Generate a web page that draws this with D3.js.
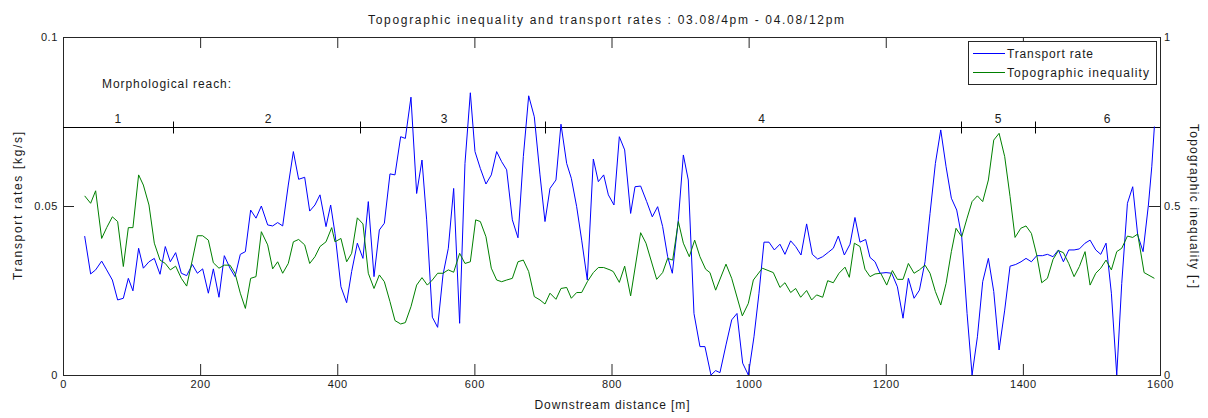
<!DOCTYPE html>
<html>
<head>
<meta charset="utf-8">
<script src="https://cdn.jsdelivr.net/npm/d3@7"></script>
<style>
  html, body { margin: 0; padding: 0; background: #fff; }
  svg { display: block; }
  text { font-family: "Liberation Sans", Arial, Helvetica, sans-serif; fill: #1a1a1a; }
</style>
</head>
<body>
<svg id="chart" width="1208" height="418"></svg>
<script>
// ---------------- DATA ----------------
const title = "Topographic inequality and transport rates : 03.08/4pm - 04.08/12pm";
const xLabel = "Downstream distance [m]";
const yLeftLabel = "Transport rates [kg/s]";
const yRightLabel = "Topographic inequality [-]";
const seriesNames = ["Transport rate", "Topographic inequality"];

const xTicks = [0, 200, 400, 600, 800, 1000, 1200, 1400, 1600];
const xTickLabels = ["0", "200", "400", "600", "800", "1000", "1200", "1400", "1600"];
const yLeftTicks = [0, 0.05, 0.1];
const yLeftTickLabels = ["0", "0.05", "0.1"];
const yRightTicks = [0, 0.5, 1];
const yRightTickLabels = ["0", "0.5", "1"];

// morphological reaches
const reachTitle = "Morphological reach:";
const reachLevel = 0.0734;              // drawn on transport-rate scale
const reachBounds = [161, 433, 703, 1310, 1417];
const reachNames = ["1", "2", "3", "4", "5", "6"];
const reachLabelPos = [80, 299, 556, 1019, 1364, 1523];

// transport rate [kg/s]
const rateDist = [
  31.6,40.3,47.6,56.4,63.7,72,79.7,88,95.3,102,110.3,117.2,125.4,133.2,141.5,149.2,156.5,164.3,172.6,180.4,
  188.6,196,203.7,212,219.3,227.5,235.3,243.6,250.9,258.6,266,273.7,281.5,289.3,298.5,305.8,313.1,320.4,328.6,336,
  343.7,352.5,359.8,367.5,374.8,383.6,390.4,
  396.7,405.4,413.7,421,429.3,437.5,445.3,453.6,461.4,468.7,476.9,484.2,492.5,499.3,507.5,515.8,523.6,530.4,538.7,546.4,
  554.2,562,569.8,578.5,586.3,594.1,600.9,608.7,616.9,624.7,632.5,639.8,647.1,655.4,663.6,671.4,679.2,687.4,695.7,703,
  710.3,719,726.3,734.6,741.4,749.2,756.5,764.7,773.5,780.8,788.6,
  795.4,803.6,811.4,819.2,827.9,834.3,842.5,851.3,859.5,867.3,874.6,881.9,888.7,897.5,904.8,912,920.3,929,936.3,945.1,
  951.9,958.2,967,975.3,983,991.3,999.6,1007.8,1015.1,1022.4,1029.7,1037.5,1045.7,1053,1061.3,1068.6,1076.4,1084.6,1092.9,1100.7,
  1108,1116.2,1123.5,1130.8,1139.6,1147.9,1155.1,1162.4,1170.7,
  1177,1184.4,1191.7,1200.4,1208.7,1217,1225.2,1233,1241.3,1249.1,1257.3,1264.6,1272.4,1280.2,1288,1295.7,1303.5,1310.8,1318.6,1325.9,
  1333.7,1341.4,1349.7,1357.5,1365.3,1373.5,1381.3,1389.6,1397.3,1404.6,1412.4,1420.2,1428.5,1435.8,1444,1451.8,1459.1,1466.9,1474.7,1482.4,
  1490.7,1498,1506.3,1513.6,1521.3,1529.1,1536.9,1544.2,1552.5,1560.2,1567.5,1575.3,1583.1,1588,1591.8
];
const rateValues = [
  .0411,.0299,.0311,.0337,.0311,.0281,.0222,.0227,.0286,.0249,.0375,.0316,.0335,.0345,.0298,.038,.0335,.0362,.0301,.0294,
  .0327,.0301,.0314,.0242,.0314,.023,.0353,.0316,.0291,.0357,.0365,.0488,.0464,.05,.0444,.0441,.0451,.0441,.0562,.0661,
  .0579,.0585,.0485,.0503,.0533,.0439,.0503,
  .0419,.0261,.0214,.0306,.039,.0345,.0513,.0291,.0429,.0449,.0595,.0592,.0705,.07,.0822,.0537,.0636,.0459,.0171,.0141,
  .0296,.0375,.0552,.0153,.0626,.0835,.0661,.0611,.0565,.0592,.0661,.0631,.0607,.0459,.0406,.0646,.0826,.0764,.0592,.0454,
  .0552,.0577,.0742,.0626,.0582,.0498,.0399,.0281,.0639,.0572,.0592,
  .0533,.0503,.0705,.0666,.0478,.0557,.0559,.0513,.0468,.0498,.0439,.035,.0301,.0459,.0651,.0577,.0182,.0084,.0084,0,
  .0013,.0007,.0089,.0163,.0182,.0035,0,.0113,.0242,.0393,.0393,.037,.0387,.0357,.0397,.038,.0355,.0447,.0357,.0343,
  .035,.0363,.0375,.0411,.0355,.0387,.0466,.0393,.0401,
  .0348,.0335,.0301,.0303,.0301,.0261,.0168,.0286,.0227,.0251,.0335,.0478,.0626,.0725,.0616,.0523,.0488,.0409,.0182,0,
  .0113,.0276,.0345,.0247,.0074,.0192,.0322,.0327,.0335,.0345,.0335,.0353,.0353,.0357,.035,.037,.0335,.037,.037,.0373,
  .039,.0399,.037,.0357,.039,.0242,0,.0271,.0508,.0557,.0414,.0365,.0503,.0616,.0735
];

// topographic inequality [-]
const ineqDist = [
  31.6,40.3,47.6,56.4,63.7,72,79.7,88,95.3,102,110.3,117.2,125.4,133.2,141.5,149.2,156.5,164.3,172.6,180.4,
  188.6,196,203.7,212,219.3,227.5,235.3,243.6,250.9,258.6,266,273.7,281.5,289.3,298.5,305.8,313.1,320.4,328.6,336,
  343.7,352.5,359.8,367.5,374.8,383.6,391.9,
  396.7,405.4,413.7,421,429.3,437.5,445.3,453.6,461.4,468.7,476.9,484.2,492.5,499.3,507.5,515.8,523.6,531.4,538.7,546.4,
  554.2,562,569.8,578.5,586.3,594.1,601.9,608.7,616.9,624.7,632.5,639.8,647.1,655.4,663.6,671.4,679.2,687.4,695.7,703,
  710.3,719,726.3,734.6,741.4,749.2,756.5,764.7,773.5,780.8,788.6,797.8,
  802.6,811.4,819.2,827.9,842.5,850.3,865.9,874.6,881.9,889.2,897.5,904.8,913.5,921.3,929,937.3,943.6,951.9,967,975.3,
  990.8,999.6,1006.9,1020,1036,1045.7,1053,1061.3,1068.6,1075.9,1084.6,1091.9,1099.2,1108,1115.3,1123.5,1131.8,1140.6,1146.9,1154.2,
  1162.4,1169.7,
  1177.1,1184.4,1192.7,1201.4,1209.7,1217,1225.2,1233,1241.3,1249.1,1257.3,1264.6,1272.4,1280.2,1288,1295.7,1302.5,1310.8,1318.6,1325.9,
  1333.7,1341.4,1349.7,1357.5,1365.3,1373.5,1381.3,1388.6,1396.9,1404.6,1412.4,1420.2,1427.5,1435.8,1444,1451.8,1459.1,1466.9,1474.7,1482.4,
  1490.7,1498,1506.3,1513.6,1521.3,1529.1,1536.9,1544.2,1552.5,1560.2,1567.5,1576.8,1591.8
];
const ineqValues = [
  .530,.508,.545,.404,.436,.468,.454,.321,.436,.436,.592,.562,.503,.390,.340,.330,.311,.322,.286,.263,
  .340,.412,.412,.399,.332,.316,.325,.325,.301,.242,.197,.286,.291,.424,.385,.314,.335,.301,.330,.394,
  .401,.385,.330,.350,.380,.394,.436,
  .394,.404,.335,.360,.465,.447,.301,.256,.296,.276,.217,.161,.151,.155,.202,.266,.288,.266,.281,.301,
  .301,.311,.304,.360,.330,.335,.459,.454,.409,.316,.281,.276,.281,.286,.335,.340,.306,.232,.222,.210,
  .242,.224,.256,.259,.227,.244,.244,.276,.303,.318,.318,.311,
  .306,.274,.322,.234,.421,.390,.283,.303,.345,.340,.454,.390,.350,.399,.350,.313,.303,.251,.328,.286,
  .175,.212,.281,.316,.303,.259,.273,.244,.256,.230,.250,.222,.237,.230,.279,.273,.301,.319,.289,.390,
  .380,.313,
  .291,.299,.301,.266,.309,.283,.283,.330,.301,.311,.325,.301,.247,.207,.271,.365,.434,.409,.464,.513,
  .530,.513,.577,.695,.715,.646,.528,.407,.434,.441,.419,.355,.273,.286,.342,.368,.362,.330,.291,.321,
  .365,.266,.301,.316,.340,.311,.365,.375,.411,.407,.417,.303,.286
];

// ---------------- LAYOUT ----------------
const svg = d3.select("#chart");
const L = 63, R = 1160, T = 37, B = 375;
const axisColor = "#262626";
const blue = "#0000ff", green = "#008000";

const x = d3.scaleLinear().domain([0, 1600]).range([L, R]);
const yL = d3.scaleLinear().domain([0, 0.1]).range([B, T]);
const yR = d3.scaleLinear().domain([0, 1]).range([B, T]);

// title
svg.append("text").attr("x", 606).attr("y", 24).attr("text-anchor", "middle")
  .attr("font-size", 12).attr("textLength", 476).attr("lengthAdjust", "spacing").text(title);

// axes
function styleAxis(g) {
  g.selectAll(".domain").remove();
  g.selectAll(".tick line").attr("stroke", axisColor);
  g.selectAll(".tick text").attr("font-size", 11).attr("fill", "#1a1a1a")
    .attr("font-family", "'Liberation Sans', Arial, sans-serif").attr("letter-spacing", "0.6px");
}
const fmt = (ticks, labels) => d => labels[ticks.indexOf(d)];

svg.append("g").attr("transform", `translate(0,${B})`)
  .call(d3.axisBottom(x).tickValues(xTicks).tickFormat(fmt(xTicks, xTickLabels)).tickSize(-11).tickSizeOuter(0).tickPadding(5))
  .call(styleAxis);
svg.append("g").attr("transform", `translate(0,${T})`)
  .call(d3.axisTop(x).tickValues(xTicks).tickFormat("").tickSize(-11).tickSizeOuter(0))
  .call(styleAxis);
svg.append("g").attr("transform", `translate(${L},0)`)
  .call(d3.axisLeft(yL).tickValues(yLeftTicks).tickFormat(fmt(yLeftTicks, yLeftTickLabels)).tickSize(-11).tickSizeOuter(0).tickPadding(5))
  .call(styleAxis);
svg.append("g").attr("transform", `translate(${R},0)`)
  .call(d3.axisRight(yR).tickValues(yRightTicks).tickFormat(fmt(yRightTicks, yRightTickLabels)).tickSize(-11).tickSizeOuter(0).tickPadding(4))
  .call(styleAxis);

// frame
svg.append("rect").attr("x", L + 0.5).attr("y", T + 0.5).attr("width", R - L).attr("height", B - T)
  .attr("fill", "none").attr("stroke", axisColor).attr("stroke-width", 1);

// axis labels
svg.append("text").attr("x", (L + R) / 2 + 0.5).attr("y", 409).attr("text-anchor", "middle")
  .attr("font-size", 12).attr("textLength", 155).attr("lengthAdjust", "spacing").text(xLabel);
svg.append("text").attr("transform", `translate(22,${(T + B) / 2}) rotate(-90)`).attr("text-anchor", "middle")
  .attr("font-size", 12).attr("textLength", 148).attr("lengthAdjust", "spacing").text(yLeftLabel);
svg.append("text").attr("transform", `translate(1190,${(T + B) / 2}) rotate(90)`).attr("text-anchor", "middle")
  .attr("font-size", 12).attr("textLength", 164).attr("lengthAdjust", "spacing").text(yRightLabel);

// morphological reaches
const ry = Math.round(yL(reachLevel)) + 0.5;
svg.append("text").attr("x", 102).attr("y", 88).attr("font-size", 12)
  .attr("textLength", 129).attr("lengthAdjust", "spacing").text(reachTitle);
svg.append("line").attr("x1", L).attr("x2", R).attr("y1", ry).attr("y2", ry)
  .attr("stroke", "#000").attr("stroke-width", 1);
svg.selectAll(".rtick").data(reachBounds).join("line")
  .attr("x1", d => Math.round(x(d)) + 0.5).attr("x2", d => Math.round(x(d)) + 0.5)
  .attr("y1", ry - 6).attr("y2", ry + 6).attr("stroke", "#000");
svg.selectAll(".rlab").data(reachNames).join("text")
  .attr("x", (d, i) => x(reachLabelPos[i])).attr("y", ry - 5).attr("text-anchor", "middle")
  .attr("font-size", 12).text(d => d);

// series
const rateData = d3.zip(rateDist, rateValues);
const ineqData = d3.zip(ineqDist, ineqValues);
const lineRate = d3.line().x(d => x(d[0])).y(d => yL(d[1]));
const lineIneq = d3.line().x(d => x(d[0])).y(d => yR(d[1]));
svg.append("path").datum(rateData).attr("d", lineRate).attr("fill", "none").attr("stroke", blue).attr("stroke-width", 1);
svg.append("path").datum(ineqData).attr("d", lineIneq).attr("fill", "none").attr("stroke", green).attr("stroke-width", 1);

// legend
const lg = svg.append("g");
lg.append("rect").attr("x", 968.5).attr("y", 41.5).attr("width", 188).attr("height", 43)
  .attr("fill", "#fff").attr("stroke", axisColor);
const legendColors = [blue, green];
const legendY = [53, 72];
const legendW = [86, 142];
seriesNames.forEach((n, i) => {
  lg.append("line").attr("x1", 973).attr("x2", 1005).attr("y1", legendY[i] + 0.5).attr("y2", legendY[i] + 0.5)
    .attr("stroke", legendColors[i]);
  lg.append("text").attr("x", 1007).attr("y", legendY[i] + 4.5).attr("font-size", 12)
    .attr("textLength", legendW[i]).attr("lengthAdjust", "spacing").text(n);
});
</script>
</body>
</html>
